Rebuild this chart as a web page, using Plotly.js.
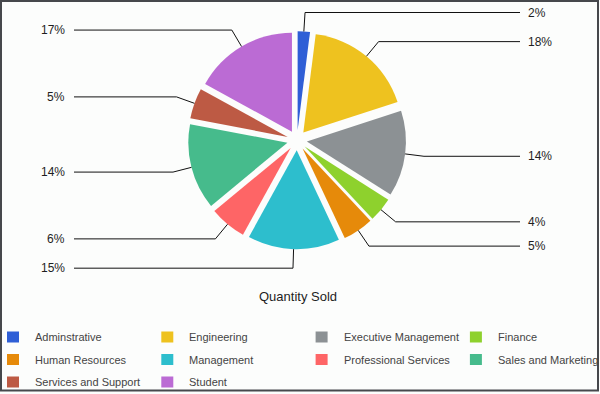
<!DOCTYPE html>
<html>
<head>
<meta charset="utf-8">
<script src="https://cdn.plot.ly/plotly-3.0.1.min.js"></script>
<style>html,body{margin:0;padding:0;background:#fcfdfc;}#chart{width:600px;height:394px;}</style>
</head>
<body>
<div id="chart"></div>
<script>
// ---- data ----
const categories = ["Adminstrative", "Engineering", "Executive Management", "Finance", "Human Resources",
                    "Management", "Professional Services", "Sales and Marketing", "Services and Support", "Student"];
const quantitySold = [2, 18, 14, 4, 5, 15, 6, 14, 5, 17];
const sliceColors = ["#2f5fd6", "#eec21f", "#8c9194", "#8ed12d", "#e68a0a",
                     "#2dbecd", "#fe6566", "#46bb8c", "#bd5a44", "#bb6bd4"];
const chartTitle = "Quantity Sold";

// ---- layout geometry ----
const W = 600, H = 394;
const dom = {x: [188 / W, 406 / W], y: [1 - 249.5 / H, 1 - 31 / H]};
const pull = 0.1;
const px = v => v / W;
const py = v => 1 - v / H;

const cx = W * (dom.x[0] + dom.x[1]) / 2;
const cy = H * (1 - (dom.y[0] + dom.y[1]) / 2);
const half = Math.min(W * (dom.x[1] - dom.x[0]), H * (dom.y[1] - dom.y[0])) / 2;

const total = quantitySold.reduce((a, b) => a + b, 0);
const shapes = [];
const annotations = [];
const lineStyle = {color: "#111111", width: 1};
const labelFont = {family: "Arial, Liberation Sans, sans-serif", size: 12, color: "#1e1e1e"};

let cum = 0;
quantitySold.forEach((v, i) => {
  const mid = (cum + v / 2) / total;
  cum += v;
  const ang = mid * 2 * Math.PI;
  const dx = Math.sin(ang), dy = -Math.cos(ang);
  const ax = cx + dx * half, ay = cy + dy * half;
  const ex = cx + dx * (half + 19), ey = cy + dy * (half + 19);
  const right = dx >= 0;
  const endX = right ? 520 : 74;
  shapes.push({type: "path", xref: "paper", yref: "paper",
    path: `M${px(ax)},${py(ay)} L${px(ex)},${py(ey)} L${px(endX)},${py(ey)}`,
    line: lineStyle});
  annotations.push({xref: "paper", yref: "paper", x: px(right ? 526 : 67), y: py(ey),
    xanchor: right ? "left" : "right", yanchor: "middle", showarrow: false,
    text: Math.round(v / total * 100) + "%", font: labelFont});
});

// title
annotations.push({xref: "paper", yref: "paper", x: px(298), y: py(296), xanchor: "center", yanchor: "middle",
  showarrow: false, text: chartTitle, font: {family: "Arial, Liberation Sans, sans-serif", size: 13, color: "#1e1e1e"}});

// legend (4 columns)
categories.forEach((c, i) => {
  const col = i % 4, row = Math.floor(i / 4);
  const mx = 7 + col * 154.3, my = 337 + row * 22.5;
  shapes.push({type: "rect", xref: "paper", yref: "paper",
    x0: px(mx), x1: px(mx + 12), y0: py(my + 5.5), y1: py(my - 5.5),
    fillcolor: sliceColors[i], line: {width: 0}});
  annotations.push({xref: "paper", yref: "paper", x: px(33 + col * 154.3), y: py(my),
    xanchor: "left", yanchor: "middle", showarrow: false, text: c,
    font: {family: "Arial, Liberation Sans, sans-serif", size: 11, color: "#444444"}});
});

// frame
shapes.push({type: "rect", xref: "paper", yref: "paper", x0: px(1), x1: px(598), y0: py(390.5), y1: py(1),
  line: {color: "#46484c", width: 2}, fillcolor: "rgba(0,0,0,0)", layer: "above"});

const trace = {
  type: "pie",
  labels: categories,
  values: quantitySold,
  marker: {colors: sliceColors, line: {width: 0}},
  pull: pull,
  sort: false,
  direction: "clockwise",
  rotation: 0,
  textinfo: "none",
  hoverinfo: "label+percent",
  domain: dom,
  showlegend: false
};

Plotly.newPlot("chart", [trace], {
  width: W, height: H,
  margin: {l: 0, r: 0, t: 0, b: 0},
  paper_bgcolor: "#fcfdfc",
  showlegend: false,
  shapes: shapes,
  annotations: annotations
}, {displayModeBar: false, staticPlot: true});
</script>
</body>
</html>
